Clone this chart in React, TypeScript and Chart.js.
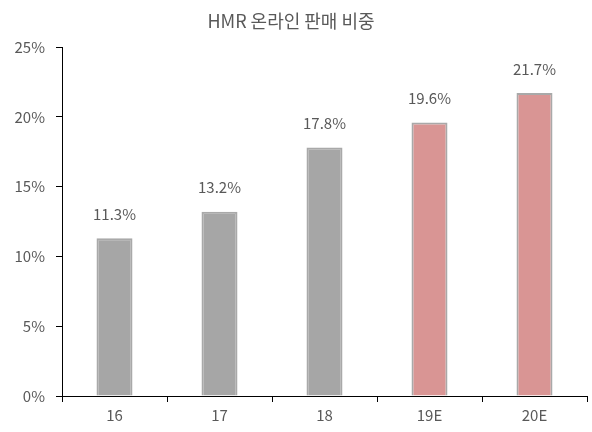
import React, { useEffect, useRef } from "react";
import { Chart, registerables } from "chart.js";

Chart.register(...registerables);

const categories = ["16", "17", "18", "19E", "20E"];
const shareValues = [11.3, 13.2, 17.8, 19.6, 21.7];
const valueLabels = ["11.3%", "13.2%", "17.8%", "19.6%", "21.7%"];
const fillColors = ["#a6a6a6", "#a6a6a6", "#a6a6a6", "#d99594", "#d99594"];
const titleText = "HMR 온라인 판매 비중";

const FONT = "'Noto Sans CJK KR', 'Open Sans', sans-serif";
const TEXT = "#595959";

export default function App() {
  const ref = useRef<HTMLCanvasElement>(null);
  useEffect(() => {
    document.body.style.margin = "0";
    const labelPlugin = {
      id: "labels",
      afterDatasetsDraw(chart: any) {
        const ctx = chart.ctx;
        const meta = chart.getDatasetMeta(0);
        ctx.save();
        ctx.font = `15px ${FONT}`;
        ctx.fillStyle = TEXT;
        ctx.textAlign = "center";
        ctx.textBaseline = "middle";
        meta.data.forEach((bar: any, i: number) => {
          ctx.fillText(valueLabels[i], bar.x, bar.y - 24);
        });
        ctx.font = `18px ${FONT}`;
        ctx.fillText(titleText, 291, 21);
        ctx.restore();
      },
    };
    const chart = new Chart(ref.current!, {
      type: "bar",
      data: {
        labels: categories,
        datasets: [
          {
            data: shareValues,
            backgroundColor: fillColors,
            borderColor: "#a9a9a9",
            borderWidth: 2,
            barPercentage: 0.343,
            categoryPercentage: 1,
          },
        ],
      },
      options: {
        animation: false,
        responsive: false,
        layout: { padding: { top: 47, right: 5, left: 0, bottom: 0 } },
        plugins: { legend: { display: false }, title: { display: false }, tooltip: { enabled: false } },
        scales: {
          x: {
            grid: { drawOnChartArea: false, offset: true, color: "#000", tickLength: 6 },
            border: { color: "#000", width: 1 },
            ticks: { color: TEXT, font: { size: 15, family: FONT }, padding: 4 },
            afterFit(scale: any) {
              scale.height = 36;
            },
          },
          y: {
            min: 0,
            max: 25,
            grid: { drawOnChartArea: false, color: "#000", tickLength: 6 },
            border: { color: "#000", width: 1 },
            ticks: {
              stepSize: 5,
              color: TEXT,
              font: { size: 15, family: FONT },
              padding: 11,
              callback: (v: any) => `${v}%`,
            },
            afterFit(scale: any) {
              scale.width = 62;
            },
          },
        },
      },
      plugins: [labelPlugin],
    });
    return () => chart.destroy();
  }, []);
  return <canvas ref={ref} width={592} height={432} />;
}
